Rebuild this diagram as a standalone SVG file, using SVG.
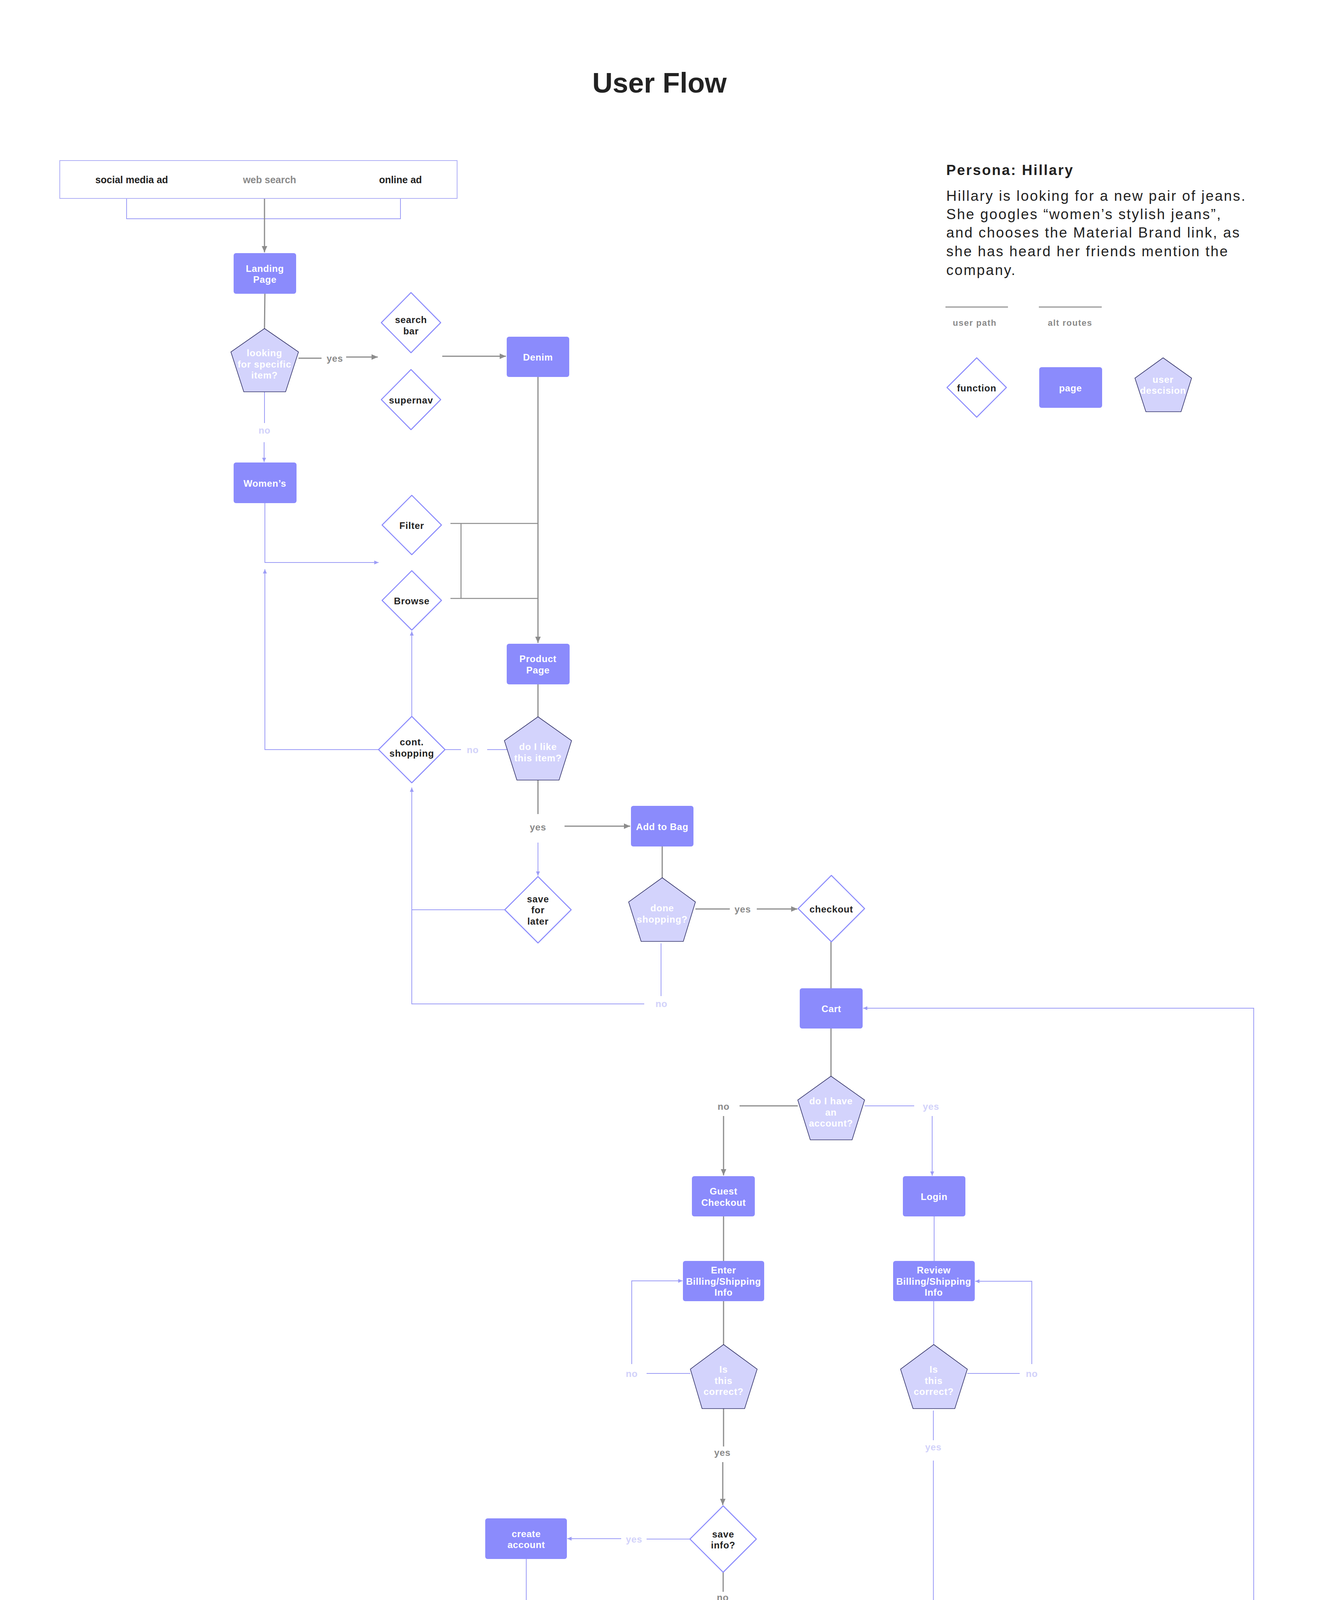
<svg xmlns="http://www.w3.org/2000/svg" width="3371" height="5178" viewBox="0 0 3371 5178">
<style>
text{font-family:"Liberation Sans",Arial,Helvetica,sans-serif;font-weight:bold;text-anchor:middle;dominant-baseline:central}
.page{fill:#8b8bfc}
.pt{fill:#ffffff;font-size:24px;letter-spacing:0.6px}
.pent{fill:#d3d3fc;stroke:#34346a;stroke-width:1.6}
.dt{fill:#ffffff;font-size:24px;letter-spacing:0.8px}
.dia{fill:#ffffff;stroke:#8b8bfc;stroke-width:2.5;stroke-linejoin:round}
.ft{fill:#222222;font-size:24px;letter-spacing:0.8px}
.g{fill:none;stroke:#8c8c8c;stroke-width:3}
.l{fill:none;stroke:#9c9cf6;stroke-width:2}
.lg{fill:#8a8a8a;font-size:24px;letter-spacing:0.6px}
.ll{fill:#d2d2fa;font-size:24px;letter-spacing:0.6px}
.src{font-size:25px}
.per{text-anchor:start;dominant-baseline:auto;fill:#222222;font-size:37px;letter-spacing:2.7px}
.leg{fill:#8a8a8a;font-size:22px;letter-spacing:1.5px}
</style>
<defs>
<marker id="ag" viewBox="0 0 16 14" refX="16" refY="7" markerWidth="16" markerHeight="14" markerUnits="userSpaceOnUse" orient="auto"><path d="M0,0 L16,7 L0,14 z" fill="#8c8c8c"/></marker>
<marker id="al" viewBox="0 0 11 10" refX="11" refY="5" markerWidth="11" markerHeight="10" markerUnits="userSpaceOnUse" orient="auto"><path d="M0,0 L11,5 L0,10 z" fill="#9c9cf6"/></marker>
</defs>
<rect width="3371" height="5178" fill="#ffffff"/>

<text id="title" x="1688" y="212" style="font-size:72px;fill:#222222">User Flow</text>

<g id="persona">
<text class="per" x="2422" y="448" style="font-weight:bold;letter-spacing:2.8px">Persona: Hillary</text>
<text class="per" x="2422" y="514" style="font-weight:normal">Hillary is looking for a new pair of jeans.</text>
<text class="per" x="2422" y="561" style="font-weight:normal">She googles “women’s stylish jeans”,</text>
<text class="per" x="2422" y="608" style="font-weight:normal">and chooses the Material Brand link, as</text>
<text class="per" x="2422" y="656" style="font-weight:normal">she has heard her friends mention the</text>
<text class="per" x="2422" y="704" style="font-weight:normal">company.</text>
</g>

<g id="legend">
<line x1="2420" y1="786" x2="2580" y2="786" stroke="#999999" stroke-width="3"/>
<line x1="2659" y1="786" x2="2820" y2="786" stroke="#999999" stroke-width="3"/>
<text class="leg" x="2495" y="826">user path</text>
<text class="leg" x="2739" y="826">alt routes</text>
<g id="legend-function"><polygon class="dia" points="2500,916 2576,992 2500,1068 2424,992"/><text class="ft" x="2500" y="993">function</text></g>
<g id="legend-page"><rect class="page" x="2660" y="940" width="161" height="104" rx="6"/><text class="pt" x="2740" y="993">page</text></g>
<g id="legend-decision"><polygon class="pent" points="2977,916 3050,968 3023,1054 2933,1054 2905,968"/><text class="dt" x="2977" y="971">user</text><text class="dt" x="2977" y="999">descision</text></g>
</g>

<g id="connectors">
<!-- source bracket -->
<path class="l" d="M324,508 V560 H1025 V508"/>
<path class="g" d="M677,508 V646" marker-end="url(#ag)"/>
<path class="g" d="M678,752 L677,841"/>
<path class="g" d="M764,917 H823"/>
<text class="lg" x="857" y="917">yes</text>
<path class="g" d="M886,914 H967" marker-end="url(#ag)"/>
<path class="g" d="M1132,912 H1295" marker-end="url(#ag)"/>
<path class="g" d="M1377,965 V1646" marker-end="url(#ag)"/>
<path class="g" d="M1153,1340 H1377 M1153,1532 H1377 M1180,1340 V1532" style="stroke-width:2.5"/>
<path class="g" d="M1377,1752 V1835"/>
<path class="g" d="M1377,1997 V2084"/>
<text class="lg" x="1377" y="2117">yes</text>
<path class="g" d="M1445,2115 H1613" marker-end="url(#ag)"/>
<path class="g" d="M1695,2167 V2247"/>
<path class="g" d="M1780,2327 H1868"/>
<text class="lg" x="1901" y="2327">yes</text>
<path class="g" d="M1937,2327 H2041" marker-end="url(#ag)"/>
<path class="g" d="M2127,2411 V2530"/>
<path class="g" d="M2127,2633 V2755"/>
<path class="g" d="M2042,2831 H1893"/>
<text class="lg" x="1852" y="2832">no</text>
<path class="g" d="M1852,2857 V3009" marker-end="url(#ag)"/>
<path class="g" d="M1852,3114 V3228"/>
<path class="g" d="M1852,3331 V3442"/>
<path class="g" d="M1852,3606 V3703"/>
<text class="lg" x="1849" y="3718">yes</text>
<path class="g" d="M1850,3743 V3853" marker-end="url(#ag)"/>
<path class="g" d="M1851,4024 V4075"/>
<text class="lg" x="1850" y="4089">no</text>
<path class="g" d="M1851,4115 V4166" marker-end="url(#ag)"/>
<path class="g" d="M1851,4168 H2309" marker-end="url(#ag)"/>
<path class="g" d="M2388,4220 V4323"/>
<path class="g" d="M2386,4486 V4554"/>
<text class="lg" x="2386" y="4575">yes</text>
<path class="g" d="M2386,4598 V4677" marker-end="url(#ag)"/>
<path class="g" d="M2386,4737 V4865" marker-end="url(#ag)"/>

<!-- alt routes -->
<path class="l" d="M677,1003 V1083"/>
<text class="ll" x="677" y="1101">no</text>
<path class="l" d="M676,1132 V1183" marker-end="url(#al)"/>
<path class="l" d="M678,1288 V1440 H969" marker-end="url(#al)"/>
<path class="l" d="M969,1919 H678 V1457" marker-end="url(#al)"/>
<path class="l" d="M1054,1834 V1616" marker-end="url(#al)"/>
<path class="l" d="M1138,1919 H1180"/>
<text class="ll" x="1210" y="1919">no</text>
<path class="l" d="M1247,1919 H1298"/>
<path class="l" d="M1377,2157 V2242" marker-end="url(#al)"/>
<path class="l" d="M1292,2329 H1054"/>
<path class="l" d="M1692,2415 V2550"/>
<text class="ll" x="1693" y="2569">no</text>
<path class="l" d="M1649,2570 H1054 V2016" marker-end="url(#al)"/>
<path class="l" d="M2213,2831 H2340"/>
<text class="ll" x="2383" y="2832">yes</text>
<path class="l" d="M2386,2857 V3010" marker-end="url(#al)"/>
<path class="l" d="M2391,3114 V3228"/>
<path class="l" d="M2390,3331 V3442"/>
<path class="l" d="M1767,3516 H1655"/>
<text class="ll" x="1617" y="3516">no</text>
<path class="l" d="M1617,3492 V3279 H1747" marker-end="url(#al)"/>
<path class="l" d="M2476,3516 H2610"/>
<text class="ll" x="2641" y="3516">no</text>
<path class="l" d="M2641,3492 V3280 H2496" marker-end="url(#al)"/>
<path class="l" d="M2389,3611 V3687"/>
<text class="ll" x="2389" y="3704">yes</text>
<path class="l" d="M2389,3739 V4115" marker-end="url(#al)"/>
<path class="l" d="M1767,3940 H1655"/>
<text class="ll" x="1623" y="3940">yes</text>
<path class="l" d="M1590,3939 H1452" marker-end="url(#al)"/>
<path class="l" d="M1347,3991 V4168 H1851"/>
<path class="l" d="M2474,4398 H2582"/>
<text class="ll" x="2614" y="4398">no</text>
<path class="l" d="M2640,4398 H3209 V2581 H2209" marker-end="url(#al)"/>
</g>

<g id="sources">
<rect x="153" y="411" width="1017" height="97" fill="#ffffff" stroke="#b0b0f6" stroke-width="2"/>
<text class="src" x="337" y="460" style="fill:#222222">social media ad</text>
<text class="src" x="690" y="460" style="fill:#8a8a8a">web search</text>
<text class="src" x="1025" y="460" style="fill:#222222">online ad</text>
</g>

<g id="landing-page"><rect class="page" x="598" y="648" width="160" height="104" rx="6"/><text class="pt" x="678" y="687">Landing</text><text class="pt" x="678" y="715">Page</text></g>
<g id="looking-specific"><polygon class="pent" points="677,841 764,901 731,1003 624,1003 591,901"/><text class="dt" x="677" y="903">looking</text><text class="dt" x="677" y="932">for specific</text><text class="dt" x="677" y="960">item?</text></g>
<g id="search-bar"><polygon class="dia" points="1052,749 1128,826 1052,903 976,826"/><text class="ft" x="1052" y="818">search</text><text class="ft" x="1052" y="847">bar</text></g>
<g id="supernav"><polygon class="dia" points="1052,946 1128,1023 1052,1100 976,1023"/><text class="ft" x="1052" y="1024">supernav</text></g>
<g id="denim"><rect class="page" x="1297" y="862" width="160" height="103" rx="6"/><text class="pt" x="1377" y="914">Denim</text></g>
<g id="womens"><rect class="page" x="598" y="1184" width="161" height="104" rx="6"/><text class="pt" x="678" y="1237">Women’s</text></g>
<g id="filter"><polygon class="dia" points="1054,1268 1130,1344 1054,1420 978,1344"/><text class="ft" x="1054" y="1345">Filter</text></g>
<g id="browse"><polygon class="dia" points="1054,1461 1130,1537 1054,1613 978,1537"/><text class="ft" x="1054" y="1538">Browse</text></g>
<g id="product-page"><rect class="page" x="1297" y="1648" width="161" height="104" rx="6"/><text class="pt" x="1377" y="1686">Product</text><text class="pt" x="1377" y="1715">Page</text></g>
<g id="cont-shopping"><polygon class="dia" points="1054,1834 1139,1919 1054,2004 969,1919"/><text class="ft" x="1054" y="1899">cont.</text><text class="ft" x="1054" y="1928">shopping</text></g>
<g id="like-item"><polygon class="pent" points="1377,1835 1463,1896 1431,1997 1323,1997 1291,1896"/><text class="dt" x="1377" y="1911">do I like</text><text class="dt" x="1377" y="1940">this item?</text></g>
<g id="add-to-bag"><rect class="page" x="1615" y="2063" width="160" height="104" rx="6"/><text class="pt" x="1695" y="2116">Add to Bag</text></g>
<g id="save-later"><polygon class="dia" points="1377,2244 1462,2329 1377,2414 1292,2329"/><text class="ft" x="1377" y="2301">save</text><text class="ft" x="1377" y="2329">for</text><text class="ft" x="1377" y="2358">later</text></g>
<g id="done-shopping"><polygon class="pent" points="1695,2247 1780,2309 1749,2410 1641,2410 1609,2309"/><text class="dt" x="1695" y="2324">done</text><text class="dt" x="1695" y="2353">shopping?</text></g>
<g id="checkout"><polygon class="dia" points="2128,2241 2213,2326 2128,2411 2043,2326"/><text class="ft" x="2128" y="2327">checkout</text></g>
<g id="cart"><rect class="page" x="2047" y="2530" width="161" height="103" rx="6"/><text class="pt" x="2128" y="2582">Cart</text></g>
<g id="have-account"><polygon class="pent" points="2127,2755 2213,2816 2181,2918 2074,2918 2042,2816"/><text class="dt" x="2127" y="2818">do I have</text><text class="dt" x="2127" y="2847">an</text><text class="dt" x="2127" y="2875">account?</text></g>
<g id="guest-checkout"><rect class="page" x="1771" y="3011" width="161" height="103" rx="6"/><text class="pt" x="1852" y="3049">Guest</text><text class="pt" x="1852" y="3078">Checkout</text></g>
<g id="login"><rect class="page" x="2311" y="3011" width="160" height="103" rx="6"/><text class="pt" x="2391" y="3063">Login</text></g>
<g id="enter-billing"><rect class="page" x="1748" y="3228" width="208" height="103" rx="6"/><text class="pt" x="1852" y="3251">Enter</text><text class="pt" x="1852" y="3280">Billing/Shipping</text><text class="pt" x="1852" y="3308">Info</text></g>
<g id="review-billing"><rect class="page" x="2286" y="3228" width="209" height="103" rx="6"/><text class="pt" x="2390" y="3251">Review</text><text class="pt" x="2390" y="3280">Billing/Shipping</text><text class="pt" x="2390" y="3308">Info</text></g>
<g id="correct-left"><polygon class="pent" points="1852,3442 1938,3505 1906,3606 1797,3606 1767,3505"/><text class="dt" x="1852" y="3505">Is</text><text class="dt" x="1852" y="3534">this</text><text class="dt" x="1852" y="3562">correct?</text></g>
<g id="correct-right"><polygon class="pent" points="2390,3442 2476,3505 2444,3606 2337,3606 2305,3505"/><text class="dt" x="2390" y="3505">Is</text><text class="dt" x="2390" y="3534">this</text><text class="dt" x="2390" y="3562">correct?</text></g>
<g id="save-info"><polygon class="dia" points="1851,3855 1936,3940 1851,4025 1766,3940"/><text class="ft" x="1851" y="3927">save</text><text class="ft" x="1851" y="3955">info?</text></g>
<g id="create-account"><rect class="page" x="1242" y="3887" width="209" height="104" rx="6"/><text class="pt" x="1347" y="3926">create</text><text class="pt" x="1347" y="3954">account</text></g>
<g id="review-order"><rect class="page" x="2311" y="4116" width="160" height="104" rx="6"/><text class="pt" x="2391" y="4154">Review</text><text class="pt" x="2391" y="4183">Order</text></g>
<g id="correct-order"><polygon class="pent" points="2388,4323 2474,4384 2442,4486 2335,4486 2302,4384"/><text class="dt" x="2388" y="4385">Is</text><text class="dt" x="2388" y="4414">this</text><text class="dt" x="2388" y="4443">correct?</text></g>
<g id="place-order"><rect x="2303" y="4678" width="170" height="59" rx="29.5" fill="#ffffff" stroke="#8b8bfc" stroke-width="2.5"/><text class="ft" x="2388" y="4708">Place Order</text></g>
<g id="confirmation-page"><rect class="page" x="2300" y="4866" width="181" height="118" rx="6"/><text class="pt" x="2390" y="4911">Confirmation</text><text class="pt" x="2390" y="4940">Page</text></g>
</svg>
